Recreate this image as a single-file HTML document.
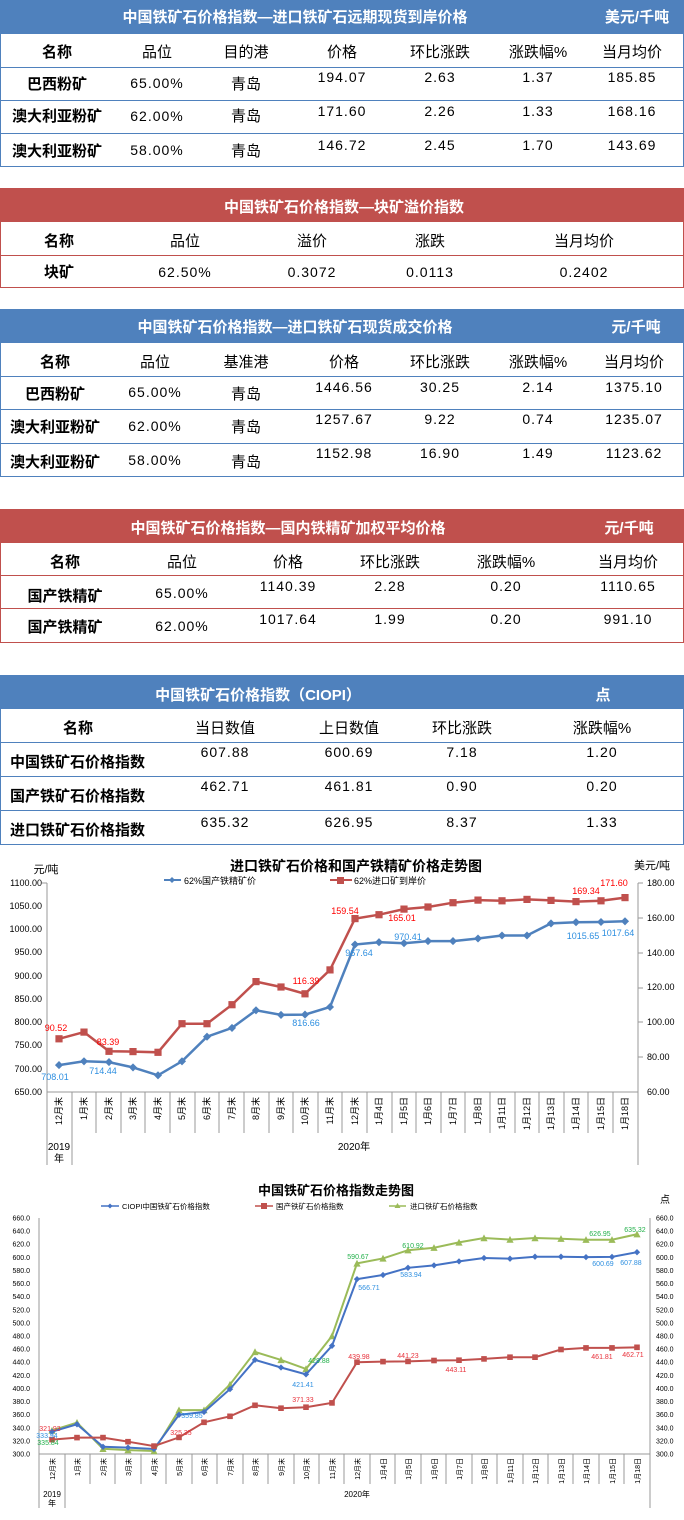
<!DOCTYPE html>
<html><head><meta charset="utf-8"><style>
*{margin:0;padding:0;box-sizing:border-box}
body{width:684px;height:1520px;background:#fff;position:relative;overflow:hidden;font-family:"Liberation Sans","Noto Sans CJK SC",sans-serif}
.t{position:absolute;left:0;width:684px;border:1px solid}
.b{border-color:#4F81BD}.r{border-color:#C0504D}
.h{position:absolute;left:0;width:684px;height:34px}
.hb{background:#4F81BD}.hr{background:#C0504D}
.ln{position:absolute;left:0;width:684px;height:0;border-top:1.5px solid}
.c{position:absolute;width:140px;margin-left:-70px;text-align:center;font-size:15px;line-height:18px;color:#000;white-space:nowrap}
.w{color:#fff;font-weight:bold;font-size:15px}
.k{font-weight:bold}
.n{font-size:14px;letter-spacing:1px;font-family:"Liberation Sans",sans-serif}
.l{position:absolute;left:10px;font-size:15px;line-height:18px;font-weight:bold;white-space:nowrap}
svg{position:absolute;left:0;top:0}
</style></head><body>

<!-- Table 1 -->
<div class="h hb" style="top:0"></div>
<div class="t b" style="top:0;height:167px"></div>
<div class="ln" style="top:67px;border-color:#4F81BD"></div>
<div class="ln" style="top:100px;border-color:#4F81BD"></div>
<div class="ln" style="top:133px;border-color:#4F81BD"></div>
<div class="c w" style="left:295px;top:9px;width:400px;margin-left:-200px">中国铁矿石价格指数—进口铁矿石远期现货到岸价格</div>
<div class="c w" style="left:637px;top:9px">美元/千吨</div>
<div class="c k" style="left:57px;top:44px">名称</div>
<div class="c" style="left:157px;top:44px">品位</div>
<div class="c" style="left:246px;top:44px">目的港</div>
<div class="c" style="left:342px;top:44px">价格</div>
<div class="c" style="left:440px;top:44px">环比涨跌</div>
<div class="c" style="left:538px;top:44px">涨跌幅%</div>
<div class="c" style="left:632px;top:44px">当月均价</div>
<div class="c k" style="left:57px;top:76px">巴西粉矿</div>
<div class="c n" style="left:157px;top:74px">65.00%</div>
<div class="c" style="left:246px;top:76px">青岛</div>
<div class="c n" style="left:342px;top:68px">194.07</div>
<div class="c n" style="left:440px;top:68px">2.63</div>
<div class="c n" style="left:538px;top:68px">1.37</div>
<div class="c n" style="left:632px;top:68px">185.85</div>
<div class="c k" style="left:57px;top:108px">澳大利亚粉矿</div>
<div class="c n" style="left:157px;top:107px">62.00%</div>
<div class="c" style="left:246px;top:108px">青岛</div>
<div class="c n" style="left:342px;top:102px">171.60</div>
<div class="c n" style="left:440px;top:102px">2.26</div>
<div class="c n" style="left:538px;top:102px">1.33</div>
<div class="c n" style="left:632px;top:102px">168.16</div>
<div class="c k" style="left:57px;top:143px">澳大利亚粉矿</div>
<div class="c n" style="left:157px;top:141px">58.00%</div>
<div class="c" style="left:246px;top:143px">青岛</div>
<div class="c n" style="left:342px;top:136px">146.72</div>
<div class="c n" style="left:440px;top:136px">2.45</div>
<div class="c n" style="left:538px;top:136px">1.70</div>
<div class="c n" style="left:632px;top:136px">143.69</div>

<!-- Table 2 -->
<div class="h hr" style="top:188px"></div>
<div class="t r" style="top:188px;height:100px"></div>
<div class="ln" style="top:255px;border-color:#C0504D"></div>
<div class="c w" style="left:344px;top:199px;width:300px;margin-left:-150px">中国铁矿石价格指数—块矿溢价指数</div>
<div class="c k" style="left:59px;top:233px">名称</div>
<div class="c" style="left:185px;top:233px">品位</div>
<div class="c" style="left:312px;top:233px">溢价</div>
<div class="c" style="left:430px;top:233px">涨跌</div>
<div class="c" style="left:584px;top:233px">当月均价</div>
<div class="c k" style="left:59px;top:264px">块矿</div>
<div class="c n" style="left:185px;top:263px">62.50%</div>
<div class="c n" style="left:312px;top:263px">0.3072</div>
<div class="c n" style="left:430px;top:263px">0.0113</div>
<div class="c n" style="left:584px;top:263px">0.2402</div>

<!-- Table 3 -->
<div class="h hb" style="top:309px"></div>
<div class="t b" style="top:309px;height:168px"></div>
<div class="ln" style="top:376px;border-color:#4F81BD"></div>
<div class="ln" style="top:409px;border-color:#4F81BD"></div>
<div class="ln" style="top:443px;border-color:#4F81BD"></div>
<div class="c w" style="left:295px;top:319px;width:360px;margin-left:-180px">中国铁矿石价格指数—进口铁矿石现货成交价格</div>
<div class="c w" style="left:636px;top:319px">元/千吨</div>
<div class="c k" style="left:55px;top:354px">名称</div>
<div class="c" style="left:155px;top:354px">品位</div>
<div class="c" style="left:246px;top:354px">基准港</div>
<div class="c" style="left:344px;top:354px">价格</div>
<div class="c" style="left:440px;top:354px">环比涨跌</div>
<div class="c" style="left:538px;top:354px">涨跌幅%</div>
<div class="c" style="left:634px;top:354px">当月均价</div>
<div class="c k" style="left:55px;top:386px">巴西粉矿</div>
<div class="c n" style="left:155px;top:383px">65.00%</div>
<div class="c" style="left:246px;top:386px">青岛</div>
<div class="c n" style="left:344px;top:378px">1446.56</div>
<div class="c n" style="left:440px;top:378px">30.25</div>
<div class="c n" style="left:538px;top:378px">2.14</div>
<div class="c n" style="left:634px;top:378px">1375.10</div>
<div class="c k" style="left:55px;top:419px">澳大利亚粉矿</div>
<div class="c n" style="left:155px;top:417px">62.00%</div>
<div class="c" style="left:246px;top:419px">青岛</div>
<div class="c n" style="left:344px;top:410px">1257.67</div>
<div class="c n" style="left:440px;top:410px">9.22</div>
<div class="c n" style="left:538px;top:410px">0.74</div>
<div class="c n" style="left:634px;top:410px">1235.07</div>
<div class="c k" style="left:55px;top:454px">澳大利亚粉矿</div>
<div class="c n" style="left:155px;top:451px">58.00%</div>
<div class="c" style="left:246px;top:454px">青岛</div>
<div class="c n" style="left:344px;top:444px">1152.98</div>
<div class="c n" style="left:440px;top:444px">16.90</div>
<div class="c n" style="left:538px;top:444px">1.49</div>
<div class="c n" style="left:634px;top:444px">1123.62</div>

<!-- Table 4 -->
<div class="h hr" style="top:509px"></div>
<div class="t r" style="top:509px;height:134px"></div>
<div class="ln" style="top:575px;border-color:#C0504D"></div>
<div class="ln" style="top:608px;border-color:#C0504D"></div>
<div class="c w" style="left:288px;top:520px;width:360px;margin-left:-180px">中国铁矿石价格指数—国内铁精矿加权平均价格</div>
<div class="c w" style="left:629px;top:520px">元/千吨</div>
<div class="c k" style="left:65px;top:554px">名称</div>
<div class="c" style="left:182px;top:554px">品位</div>
<div class="c" style="left:288px;top:554px">价格</div>
<div class="c" style="left:390px;top:554px">环比涨跌</div>
<div class="c" style="left:506px;top:554px">涨跌幅%</div>
<div class="c" style="left:628px;top:554px">当月均价</div>
<div class="c k" style="left:65px;top:588px">国产铁精矿</div>
<div class="c n" style="left:182px;top:584px">65.00%</div>
<div class="c n" style="left:288px;top:577px">1140.39</div>
<div class="c n" style="left:390px;top:577px">2.28</div>
<div class="c n" style="left:506px;top:577px">0.20</div>
<div class="c n" style="left:628px;top:577px">1110.65</div>
<div class="c k" style="left:65px;top:619px">国产铁精矿</div>
<div class="c n" style="left:182px;top:617px">62.00%</div>
<div class="c n" style="left:288px;top:610px">1017.64</div>
<div class="c n" style="left:390px;top:610px">1.99</div>
<div class="c n" style="left:506px;top:610px">0.20</div>
<div class="c n" style="left:628px;top:610px">991.10</div>

<!-- Table 5 -->
<div class="h hb" style="top:675px"></div>
<div class="t b" style="top:675px;height:170px"></div>
<div class="ln" style="top:742px;border-color:#4F81BD"></div>
<div class="ln" style="top:776px;border-color:#4F81BD"></div>
<div class="ln" style="top:810px;border-color:#4F81BD"></div>
<div class="c w" style="left:258px;top:687px;width:240px;margin-left:-120px">中国铁矿石价格指数（CIOPI）</div>
<div class="c w" style="left:603px;top:687px">点</div>
<div class="c k" style="left:78px;top:720px">名称</div>
<div class="c" style="left:225px;top:720px">当日数值</div>
<div class="c" style="left:349px;top:720px">上日数值</div>
<div class="c" style="left:462px;top:720px">环比涨跌</div>
<div class="c" style="left:602px;top:720px">涨跌幅%</div>
<div class="l" style="top:754px">中国铁矿石价格指数</div>
<div class="c n" style="left:225px;top:743px">607.88</div>
<div class="c n" style="left:349px;top:743px">600.69</div>
<div class="c n" style="left:462px;top:743px">7.18</div>
<div class="c n" style="left:602px;top:743px">1.20</div>
<div class="l" style="top:788px">国产铁矿石价格指数</div>
<div class="c n" style="left:225px;top:777px">462.71</div>
<div class="c n" style="left:349px;top:777px">461.81</div>
<div class="c n" style="left:462px;top:777px">0.90</div>
<div class="c n" style="left:602px;top:777px">0.20</div>
<div class="l" style="top:822px">进口铁矿石价格指数</div>
<div class="c n" style="left:225px;top:813px">635.32</div>
<div class="c n" style="left:349px;top:813px">626.95</div>
<div class="c n" style="left:462px;top:813px">8.37</div>
<div class="c n" style="left:602px;top:813px">1.33</div>

<svg width="684" height="1520" viewBox="0 0 684 1520" font-family="Liberation Sans, Noto Sans CJK SC, sans-serif">
<defs>
<marker id="bd" viewBox="-5 -5 10 10" markerWidth="9" markerHeight="9" markerUnits="userSpaceOnUse"><path d="M0-4.5L4.5 0 0 4.5-4.5 0Z" fill="#4F81BD"/></marker>
<marker id="rs" viewBox="-5 -5 10 10" markerWidth="9" markerHeight="9" markerUnits="userSpaceOnUse"><rect x="-4" y="-4" width="8" height="8" fill="#C0504D"/></marker>
<marker id="bd2" viewBox="-5 -5 10 10" markerWidth="7" markerHeight="7" markerUnits="userSpaceOnUse"><path d="M0-4.5L4.5 0 0 4.5-4.5 0Z" fill="#4472C4"/></marker>
<marker id="rs2" viewBox="-5 -5 10 10" markerWidth="7" markerHeight="7" markerUnits="userSpaceOnUse"><rect x="-4" y="-4" width="8" height="8" fill="#C0504D"/></marker>
<marker id="gt" viewBox="-5 -5 10 10" markerWidth="8" markerHeight="8" markerUnits="userSpaceOnUse"><path d="M0-4.5L4.5 4 -4.5 4Z" fill="#9BBB59"/></marker>
</defs>

<!-- Chart 1 -->
<text x="356" y="871" font-size="14" font-weight="bold" text-anchor="middle">进口铁矿石价格和国产铁精矿价格走势图</text>
<text x="46" y="873" font-size="11" text-anchor="middle">元/吨</text>
<text x="652" y="869" font-size="11" text-anchor="middle">美元/吨</text>
<line x1="164" y1="880" x2="181" y2="880" stroke="#4F81BD" stroke-width="2"/><path d="M172 877L175 880 172 883 169 880Z" fill="#4F81BD"/>
<text x="184" y="884" font-size="9">62%国产铁精矿价</text>
<line x1="330" y1="880" x2="352" y2="880" stroke="#C0504D" stroke-width="2"/><rect x="337" y="877" width="7" height="7" fill="#C0504D"/>
<text x="354" y="884" font-size="9">62%进口矿到岸价</text>
<g font-size="9" text-anchor="end">
<text x="42" y="886">1100.00</text><text x="42" y="909">1050.00</text><text x="42" y="932">1000.00</text><text x="42" y="955">950.00</text><text x="42" y="979">900.00</text><text x="42" y="1002">850.00</text><text x="42" y="1025">800.00</text><text x="42" y="1048">750.00</text><text x="42" y="1072">700.00</text><text x="42" y="1095">650.00</text>
</g>
<g font-size="9">
<text x="647" y="886">180.00</text><text x="647" y="921">160.00</text><text x="647" y="956">140.00</text><text x="647" y="990">120.00</text><text x="647" y="1025">100.00</text><text x="647" y="1060">80.00</text><text x="647" y="1095">60.00</text>
</g>
<g stroke="#999" stroke-width="1">
<line x1="47" y1="883" x2="47" y2="1165"/><line x1="638" y1="883" x2="638" y2="1165"/><line x1="47" y1="1092" x2="638" y2="1092"/>
<line x1="72" y1="1092" x2="72" y2="1165"/>
<line x1="96" y1="1092" x2="96" y2="1133"/><line x1="121" y1="1092" x2="121" y2="1133"/><line x1="145" y1="1092" x2="145" y2="1133"/><line x1="170" y1="1092" x2="170" y2="1133"/><line x1="195" y1="1092" x2="195" y2="1133"/><line x1="219" y1="1092" x2="219" y2="1133"/><line x1="244" y1="1092" x2="244" y2="1133"/><line x1="269" y1="1092" x2="269" y2="1133"/><line x1="293" y1="1092" x2="293" y2="1133"/><line x1="318" y1="1092" x2="318" y2="1133"/><line x1="342" y1="1092" x2="342" y2="1133"/><line x1="367" y1="1092" x2="367" y2="1133"/><line x1="392" y1="1092" x2="392" y2="1133"/><line x1="416" y1="1092" x2="416" y2="1133"/><line x1="441" y1="1092" x2="441" y2="1133"/><line x1="465" y1="1092" x2="465" y2="1133"/><line x1="490" y1="1092" x2="490" y2="1133"/><line x1="515" y1="1092" x2="515" y2="1133"/><line x1="539" y1="1092" x2="539" y2="1133"/><line x1="564" y1="1092" x2="564" y2="1133"/><line x1="588" y1="1092" x2="588" y2="1133"/><line x1="613" y1="1092" x2="613" y2="1133"/>
<line x1="42" y1="883" x2="47" y2="883"/><line x1="638" y1="883" x2="643" y2="883"/><line x1="638" y1="918" x2="643" y2="918"/><line x1="638" y1="953" x2="643" y2="953"/><line x1="638" y1="988" x2="643" y2="988"/><line x1="638" y1="1022" x2="643" y2="1022"/><line x1="638" y1="1057" x2="643" y2="1057"/>
</g>
<g font-size="9" text-anchor="end">
<text transform="translate(62,1097) rotate(-90)">12月末</text><text transform="translate(87,1097) rotate(-90)">1月末</text><text transform="translate(112,1097) rotate(-90)">2月末</text><text transform="translate(136,1097) rotate(-90)">3月末</text><text transform="translate(161,1097) rotate(-90)">4月末</text><text transform="translate(185,1097) rotate(-90)">5月末</text><text transform="translate(210,1097) rotate(-90)">6月末</text><text transform="translate(235,1097) rotate(-90)">7月末</text><text transform="translate(259,1097) rotate(-90)">8月末</text><text transform="translate(284,1097) rotate(-90)">9月末</text><text transform="translate(308,1097) rotate(-90)">10月末</text><text transform="translate(333,1097) rotate(-90)">11月末</text><text transform="translate(358,1097) rotate(-90)">12月末</text><text transform="translate(382,1097) rotate(-90)">1月4日</text><text transform="translate(407,1097) rotate(-90)">1月5日</text><text transform="translate(431,1097) rotate(-90)">1月6日</text><text transform="translate(456,1097) rotate(-90)">1月7日</text><text transform="translate(481,1097) rotate(-90)">1月8日</text><text transform="translate(505,1097) rotate(-90)">1月11日</text><text transform="translate(530,1097) rotate(-90)">1月12日</text><text transform="translate(554,1097) rotate(-90)">1月13日</text><text transform="translate(579,1097) rotate(-90)">1月14日</text><text transform="translate(604,1097) rotate(-90)">1月15日</text><text transform="translate(628,1097) rotate(-90)">1月18日</text>
</g>
<text x="59" y="1150" font-size="10" text-anchor="middle">2019</text><text x="59" y="1162" font-size="10" text-anchor="middle">年</text>
<text x="354" y="1150" font-size="10" text-anchor="middle">2020年</text>
<polyline fill="none" stroke="#4F81BD" stroke-width="2.5" marker-start="url(#bd)" marker-mid="url(#bd)" marker-end="url(#bd)" points="59,1065.1 84,1061.3 109,1062.1 133,1067.4 158,1075.3 182,1061.3 207,1036.7 232,1027.9 256,1010.3 281,1014.9 305,1014.6 330,1007 355,944.5 379,942.2 404,943.2 428,941.1 453,941.1 478,938.5 502,935.5 527,935.5 551,923.4 576,922.2 601,922 625,921.3"/>
<polyline fill="none" stroke="#C0504D" stroke-width="2.5" marker-start="url(#rs)" marker-mid="url(#rs)" marker-end="url(#rs)" points="59,1038.8 84,1032.1 109,1051.3 133,1051.6 158,1052.3 182,1023.7 207,1023.7 232,1004.7 256,981.6 281,987 305,993.8 330,969.9 355,918.6 379,914.7 404,909.1 428,907 453,902.7 478,900.1 502,900.8 527,899.4 551,900.4 576,901.6 601,900.8 625,897.6"/>
<g font-size="9" fill="#2E8FE0" text-anchor="middle">
<text x="55" y="1080">708.01</text><text x="103" y="1074">714.44</text><text x="306" y="1026">816.66</text><text x="359" y="956">967.64</text><text x="408" y="940">970.41</text><text x="583" y="939">1015.65</text><text x="618" y="936">1017.64</text>
</g>
<g font-size="9" fill="#FF0000" text-anchor="middle">
<text x="56" y="1031">90.52</text><text x="108" y="1045">83.39</text><text x="306" y="984">116.39</text><text x="345" y="914">159.54</text><text x="402" y="921">165.01</text><text x="586" y="894">169.34</text><text x="614" y="886">171.60</text>
</g>

<!-- Chart 2 -->
<text x="336" y="1195" font-size="13" font-weight="bold" text-anchor="middle">中国铁矿石价格指数走势图</text>
<text x="665" y="1203" font-size="10" text-anchor="middle">点</text>
<line x1="101" y1="1206" x2="119" y2="1206" stroke="#4472C4" stroke-width="1.5"/><path d="M110 1203.5L112.5 1206 110 1208.5 107.5 1206Z" fill="#4472C4"/>
<text x="122" y="1209" font-size="7.5">CIOPI中国铁矿石价格指数</text>
<line x1="255" y1="1206" x2="273" y2="1206" stroke="#C0504D" stroke-width="1.5"/><rect x="261" y="1203" width="6" height="6" fill="#C0504D"/>
<text x="276" y="1209" font-size="7.5">国产铁矿石价格指数</text>
<line x1="389" y1="1206" x2="406" y2="1206" stroke="#9BBB59" stroke-width="1.5"/><path d="M397.5 1203L400.5 1208 394.5 1208Z" fill="#9BBB59"/>
<text x="410" y="1209" font-size="7.5">进口铁矿石价格指数</text>
<g font-size="7" text-anchor="end">
<text x="30" y="1220.5">660.0</text><text x="30" y="1233.6">640.0</text><text x="30" y="1246.7">620.0</text><text x="30" y="1259.8">600.0</text><text x="30" y="1272.9">580.0</text><text x="30" y="1286">560.0</text><text x="30" y="1299.2">540.0</text><text x="30" y="1312.3">520.0</text><text x="30" y="1325.4">500.0</text><text x="30" y="1338.5">480.0</text><text x="30" y="1351.6">460.0</text><text x="30" y="1364.7">440.0</text><text x="30" y="1377.8">420.0</text><text x="30" y="1391">400.0</text><text x="30" y="1404.1">380.0</text><text x="30" y="1417.2">360.0</text><text x="30" y="1430.3">340.0</text><text x="30" y="1443.4">320.0</text><text x="30" y="1456.5">300.0</text>
</g>
<g font-size="7">
<text x="656" y="1220.5">660.0</text><text x="656" y="1233.6">640.0</text><text x="656" y="1246.7">620.0</text><text x="656" y="1259.8">600.0</text><text x="656" y="1272.9">580.0</text><text x="656" y="1286">560.0</text><text x="656" y="1299.2">540.0</text><text x="656" y="1312.3">520.0</text><text x="656" y="1325.4">500.0</text><text x="656" y="1338.5">480.0</text><text x="656" y="1351.6">460.0</text><text x="656" y="1364.7">440.0</text><text x="656" y="1377.8">420.0</text><text x="656" y="1391">400.0</text><text x="656" y="1404.1">380.0</text><text x="656" y="1417.2">360.0</text><text x="656" y="1430.3">340.0</text><text x="656" y="1443.4">320.0</text><text x="656" y="1456.5">300.0</text>
</g>
<g stroke="#999" stroke-width="1">
<line x1="39" y1="1218" x2="39" y2="1508"/><line x1="650" y1="1218" x2="650" y2="1508"/><line x1="39" y1="1454" x2="650" y2="1454"/>
<line x1="65" y1="1454" x2="65" y2="1508"/>
<line x1="90" y1="1454" x2="90" y2="1484"/><line x1="115" y1="1454" x2="115" y2="1484"/><line x1="141" y1="1454" x2="141" y2="1484"/><line x1="166" y1="1454" x2="166" y2="1484"/><line x1="192" y1="1454" x2="192" y2="1484"/><line x1="217" y1="1454" x2="217" y2="1484"/><line x1="243" y1="1454" x2="243" y2="1484"/><line x1="268" y1="1454" x2="268" y2="1484"/><line x1="294" y1="1454" x2="294" y2="1484"/><line x1="319" y1="1454" x2="319" y2="1484"/><line x1="344" y1="1454" x2="344" y2="1484"/><line x1="370" y1="1454" x2="370" y2="1484"/><line x1="395" y1="1454" x2="395" y2="1484"/><line x1="421" y1="1454" x2="421" y2="1484"/><line x1="446" y1="1454" x2="446" y2="1484"/><line x1="472" y1="1454" x2="472" y2="1484"/><line x1="497" y1="1454" x2="497" y2="1484"/><line x1="523" y1="1454" x2="523" y2="1484"/><line x1="548" y1="1454" x2="548" y2="1484"/><line x1="573" y1="1454" x2="573" y2="1484"/><line x1="599" y1="1454" x2="599" y2="1484"/><line x1="624" y1="1454" x2="624" y2="1484"/>
</g>
<g font-size="7" text-anchor="end">
<text transform="translate(55,1458) rotate(-90)">12月末</text><text transform="translate(80,1458) rotate(-90)">1月末</text><text transform="translate(106,1458) rotate(-90)">2月末</text><text transform="translate(131,1458) rotate(-90)">3月末</text><text transform="translate(157,1458) rotate(-90)">4月末</text><text transform="translate(182,1458) rotate(-90)">5月末</text><text transform="translate(207,1458) rotate(-90)">6月末</text><text transform="translate(233,1458) rotate(-90)">7月末</text><text transform="translate(258,1458) rotate(-90)">8月末</text><text transform="translate(284,1458) rotate(-90)">9月末</text><text transform="translate(309,1458) rotate(-90)">10月末</text><text transform="translate(335,1458) rotate(-90)">11月末</text><text transform="translate(360,1458) rotate(-90)">12月末</text><text transform="translate(386,1458) rotate(-90)">1月4日</text><text transform="translate(411,1458) rotate(-90)">1月5日</text><text transform="translate(437,1458) rotate(-90)">1月6日</text><text transform="translate(462,1458) rotate(-90)">1月7日</text><text transform="translate(487,1458) rotate(-90)">1月8日</text><text transform="translate(513,1458) rotate(-90)">1月11日</text><text transform="translate(538,1458) rotate(-90)">1月12日</text><text transform="translate(564,1458) rotate(-90)">1月13日</text><text transform="translate(589,1458) rotate(-90)">1月14日</text><text transform="translate(615,1458) rotate(-90)">1月15日</text><text transform="translate(640,1458) rotate(-90)">1月18日</text>
</g>
<text x="52" y="1497" font-size="8" text-anchor="middle">2019</text><text x="52" y="1506" font-size="8" text-anchor="middle">年</text>
<text x="357" y="1497" font-size="8" text-anchor="middle">2020年</text>
<polyline fill="none" stroke="#9BBB59" stroke-width="2" marker-start="url(#gt)" marker-mid="url(#gt)" marker-end="url(#gt)" points="52,1430.5 77,1422.6 103,1448.8 128,1450.1 154,1451 179,1410.1 204,1410.1 230,1384.5 255,1351.9 281,1359.9 306,1368.9 332,1336 357,1263.4 383,1258.4 408,1250.2 434,1247.7 459,1242.4 484,1238 510,1239.6 535,1238 561,1238.7 586,1239.7 612,1239.7 637,1234.2"/>
<polyline fill="none" stroke="#4472C4" stroke-width="2" marker-start="url(#bd2)" marker-mid="url(#bd2)" marker-end="url(#bd2)" points="52,1431.7 77,1424.3 103,1446.8 128,1447.6 154,1449 179,1414.8 204,1412 230,1389.1 255,1359.9 281,1367.5 306,1374.4 332,1345.8 357,1279.1 383,1275 408,1267.8 434,1265.4 459,1261.4 484,1258 510,1258.7 535,1256.7 561,1256.7 586,1257.1 612,1256.9 637,1252.2"/>
<polyline fill="none" stroke="#C0504D" stroke-width="2" marker-start="url(#rs2)" marker-mid="url(#rs2)" marker-end="url(#rs2)" points="52,1439.6 77,1437.6 103,1437.6 128,1441.7 154,1446.1 179,1437.4 204,1422.3 230,1416.3 255,1405.3 281,1408.2 306,1407.2 332,1402.9 357,1362.2 383,1361.6 408,1361.4 434,1360.5 459,1360.2 484,1358.9 510,1357.2 535,1357.2 561,1349.5 586,1347.9 612,1347.9 637,1347.3"/>
<g font-size="7" fill="#2E8FE0" text-anchor="middle">
<text x="47" y="1438">333.94</text><text x="192" y="1418">359.85</text><text x="303" y="1387">421.41</text><text x="369" y="1290">566.71</text><text x="411" y="1277">583.94</text><text x="603" y="1266">600.69</text><text x="631" y="1265">607.88</text>
</g>
<g font-size="7" fill="#E8303A" text-anchor="middle">
<text x="50" y="1431">321.93</text><text x="181" y="1435">325.35</text><text x="303" y="1402">371.33</text><text x="359" y="1359">439.98</text><text x="408" y="1358">441.23</text><text x="456" y="1372">443.11</text><text x="602" y="1359">461.81</text><text x="633" y="1357">462.71</text>
</g>
<g font-size="7" fill="#22B04A" text-anchor="middle">
<text x="48" y="1445">335.84</text><text x="319" y="1363">429.88</text><text x="358" y="1259">590.67</text><text x="413" y="1248">610.92</text><text x="600" y="1236">626.95</text><text x="635" y="1232">635.32</text>
</g>
</svg>
</body></html>
